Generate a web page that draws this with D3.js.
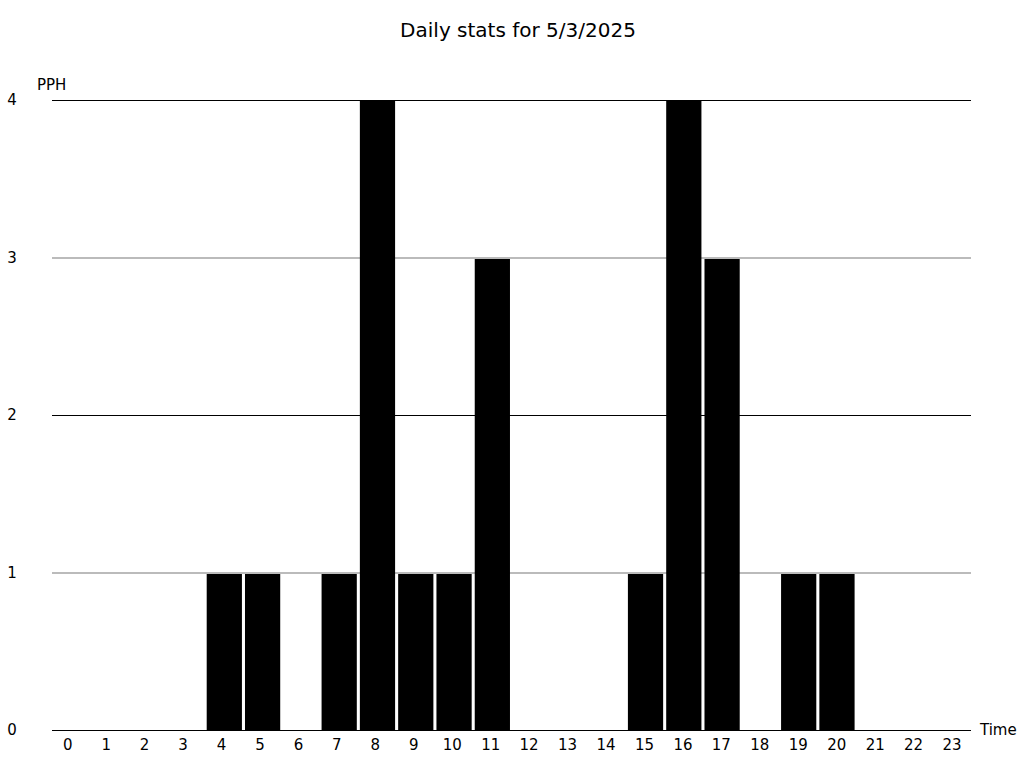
<!DOCTYPE html>
<html><head><meta charset="utf-8">
<script src="https://cdn.jsdelivr.net/npm/d3@7"></script>
<style>body{margin:0;background:#fff;}text{font-family:"DejaVu Sans",sans-serif;}</style>
</head><body>
<svg id="c" width="1024" height="768"></svg>
<script>
const hours = d3.range(0,24).map(String);
const values = [0,0,0,0,1,1,0,1,4,1,1,3,0,0,0,1,4,3,0,1,1,0,0,0];
const yTicks = [0,1,2,3,4];
const title = "Daily stats for 5/3/2025";

const svg = d3.select("#c");
const mLeft=52,mRight=971,mTop=100,mBottom=730;
const x = d3.scaleBand().domain(hours).range([mLeft,mRight]).paddingInner(0.08).paddingOuter(0.04);
const xl = d3.scaleBand().domain(hours).range([48.5,971.3]);
const y = d3.scaleLinear().domain([0,4]).range([mBottom,mTop]);

svg.append("text").attr("x",518).attr("y",37).attr("text-anchor","middle").attr("font-size",20).text(title);

svg.append("g").selectAll("line").data(yTicks).join("line")
  .attr("x1",mLeft).attr("x2",mRight)
  .attr("y1",d=>d%2===0?Math.round(y(d))+0.5:Math.round(y(d)))
  .attr("y2",d=>d%2===0?Math.round(y(d))+0.5:Math.round(y(d)))
  .attr("stroke",d=>d%2===0?"#000":"#bbbbbb").attr("stroke-width",d=>d%2===0?1:2);

svg.append("g").selectAll("rect").data(values).join("rect")
  .attr("x",(d,i)=>x(hours[i])).attr("width",x.bandwidth())
  .attr("y",d=>Math.round(y(d))+1).attr("height",d=>Math.max(0,Math.round(y(0))-Math.round(y(d))))
  .attr("fill","#000");

svg.append("g").selectAll("text").data(yTicks).join("text")
  .attr("x",12).attr("y",d=>y(d)+5).attr("text-anchor","middle").attr("font-size",15).text(d=>d);

svg.append("g").selectAll("text").data(hours).join("text")
  .attr("x",d=>xl(d)+xl.bandwidth()/2).attr("y",750).attr("text-anchor","middle").attr("font-size",15).text(d=>d);

svg.append("text").attr("x",37).attr("y",90).attr("font-size",15).text("PPH");
svg.append("text").attr("x",980).attr("y",735).attr("font-size",15).text("Time");
</script>
</body></html>
